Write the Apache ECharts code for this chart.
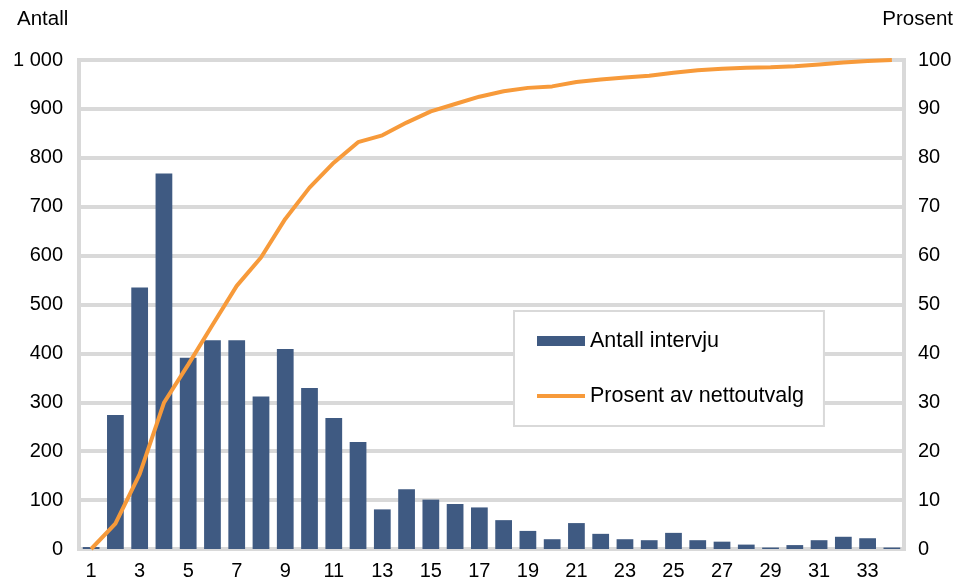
<!DOCTYPE html>
<html>
<head>
<meta charset="utf-8">
<script src="https://cdn.jsdelivr.net/npm/echarts@6/dist/echarts.min.js"></script>
<style>
  html, body { margin: 0; padding: 0; background: #fff; }
  #chart { width: 957px; height: 583px; }
</style>
</head>
<body>
<div id="chart"></div>
<script>
const categories = ['1','2','3','4','5','6','7','8','9','10','11','12','13','14','15','16','17','18','19','20','21','22','23','24','25','26','27','28','29','30','31','32','33','34'];
const antallIntervju = [4,274,535,768,391,427,427,312,409,329,268,219,81,122,101,92,85,59,37,20,53,31,20,18,33,18,15,9,3,8,18,25,22,3];
const prosentNettoutvalg = [0,5.2,15.3,29.9,37.7,45.8,53.8,59.6,67.5,73.9,79.0,83.2,84.6,87.2,89.5,91.0,92.5,93.6,94.3,94.6,95.5,96.0,96.4,96.8,97.4,97.9,98.2,98.4,98.5,98.7,99.1,99.5,99.8,100];
const seriesNames = ['Antall intervju', 'Prosent av nettoutvalg'];
const leftAxisTitle = 'Antall';
const rightAxisTitle = 'Prosent';

const FONT = '"Liberation Sans", Arial, sans-serif';
const GRID_COLOR = '#d9d9d9';
const BAR_COLOR = '#3F5A82';
const LINE_COLOR = '#F79A3A';

const chart = echarts.init(document.getElementById('chart'), null, { renderer: 'canvas' });

chart.setOption({
  animation: false,
  backgroundColor: '#ffffff',
  textStyle: { fontFamily: FONT, color: '#000' },
  grid: {
    left: 79, right: 53, top: 60, bottom: 34,
    show: true, borderColor: GRID_COLOR, borderWidth: 4, backgroundColor: 'transparent'
  },
  graphic: [
    { type: 'text', left: 17, top: 9, style: { text: leftAxisTitle, font: '20.5px ' + FONT, fill: '#000' } },
    { type: 'text', right: 4, top: 9, style: { text: rightAxisTitle, font: '20.5px ' + FONT, fill: '#000' } }
  ],
  legend: {
    orient: 'vertical',
    left: 514, top: 311,
    padding: [18, 20, 18, 23],
    backgroundColor: '#fff',
    borderColor: GRID_COLOR, borderWidth: 2,
    itemWidth: 48, itemHeight: 10, itemGap: 31,
    textStyle: { fontFamily: FONT, fontSize: 21.5, color: '#000', lineHeight: 24 },
    data: [
      { name: seriesNames[0], icon: 'rect', itemStyle: { color: BAR_COLOR } },
      { name: seriesNames[1], icon: 'path://M0,0 L48,0 L48,4 L0,4 Z', itemStyle: { color: LINE_COLOR } }
    ]
  },
  xAxis: {
    type: 'category',
    data: categories,
    boundaryGap: true,
    axisLine: { show: false },
    axisTick: { show: false },
    axisLabel: { interval: 1, margin: 12, fontFamily: FONT, fontSize: 20, color: '#000' },
    splitLine: { show: false }
  },
  yAxis: [
    {
      type: 'value', min: 0, max: 1000, interval: 100,
      axisLine: { show: false }, axisTick: { show: false },
      axisLabel: {
        margin: 16, fontFamily: FONT, fontSize: 20, color: '#000',
        formatter: v => String(v).replace(/\B(?=(\d{3})+(?!\d))/g, ' ')
      },
      splitLine: { show: true, lineStyle: { color: GRID_COLOR, width: 4 } }
    },
    {
      type: 'value', min: 0, max: 100, interval: 10,
      axisLine: { show: false }, axisTick: { show: false },
      axisLabel: { margin: 14, fontFamily: FONT, fontSize: 20, color: '#000' },
      splitLine: { show: false }
    }
  ],
  series: [
    {
      name: seriesNames[0],
      type: 'bar',
      data: antallIntervju,
      yAxisIndex: 0,
      barCategoryGap: '31%',
      itemStyle: { color: BAR_COLOR },
      z: 2
    },
    {
      name: seriesNames[1],
      type: 'line',
      data: prosentNettoutvalg,
      yAxisIndex: 1,
      symbol: 'none',
      smooth: false,
      lineStyle: { color: LINE_COLOR, width: 4 },
      itemStyle: { color: LINE_COLOR },
      z: 3
    }
  ]
});
</script>
</body>
</html>
